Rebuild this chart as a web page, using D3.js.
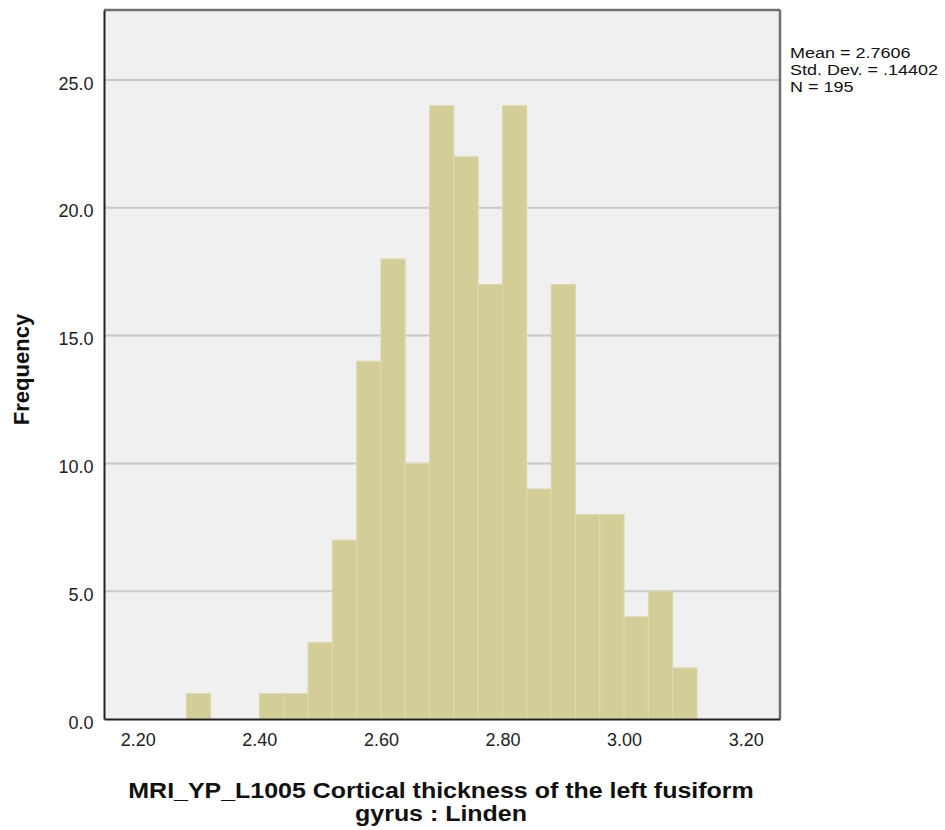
<!DOCTYPE html>
<html><head><meta charset="utf-8">
<script src="https://cdn.jsdelivr.net/npm/d3@7"></script>
<style>body{margin:0;background:#fff;} text{font-family:"Liberation Sans",Arial,sans-serif;}</style>
</head><body>
<svg id="c" width="945" height="830"></svg>
<script>
const binStart = 2.28;
const binWidth = 0.04;
const counts = [1,0,0,1,1,3,7,14,18,10,24,22,17,24,9,17,8,8,4,5,2];
const xTicks = [2.20,2.40,2.60,2.80,3.00,3.20];
const yTicks = [0,5,10,15,20,25];
const statsLines = ["Mean = 2.7606","Std. Dev. = .14402","N = 195"];
const xTitle = ["MRI_YP_L1005 Cortical thickness of the left fusiform","gyrus : Linden"];
const yTitle = "Frequency";

const bins = counts.map((c,i)=>({x0: binStart+i*binWidth, x1: binStart+(i+1)*binWidth, n:c}));

const svg = d3.select("#c");
const L=104, R=780, T=10, B=719;
const x = d3.scaleLinear().domain([2.1446,3.2564]).range([L,R]);
const y = d3.scaleLinear().domain([0,27.74]).range([B,T]);

svg.append("rect").attr("x",L).attr("y",T).attr("width",R-L).attr("height",B-T).attr("fill","#f0f0f0");

svg.append("g").selectAll("line").data(yTicks.filter(d=>d>0)).join("line")
  .attr("x1",L).attr("x2",R).attr("y1",d=>y(d)).attr("y2",d=>y(d))
  .attr("stroke","#c8c8c8").attr("stroke-width",2);

svg.append("g").selectAll("rect").data(bins.filter(b=>b.n>0)).join("rect")
  .attr("x",d=>x(d.x0)).attr("width",d=>x(d.x1)-x(d.x0))
  .attr("y",d=>y(d.n)).attr("height",d=>y(0)-y(d.n))
  .attr("fill","#d3ce97").attr("stroke","#dedaaf").attr("stroke-width",1);

// frame
svg.append("line").attr("x1",L).attr("x2",R).attr("y1",T).attr("y2",T).attr("stroke","#707070").attr("stroke-width",2.5);
svg.append("line").attr("x1",R).attr("x2",R).attr("y1",T).attr("y2",B).attr("stroke","#707070").attr("stroke-width",2.5);

const yAxis = svg.append("g").attr("transform",`translate(${L},0)`)
  .call(d3.axisLeft(y).tickValues(yTicks).tickFormat(d3.format(".1f")).tickSize(0).tickPadding(10.5));
yAxis.select(".domain").attr("stroke","#222").attr("stroke-width",2);
yAxis.selectAll("text").attr("font-size",18).attr("dy","0.5em").attr("fill","#222").attr("font-family","Liberation Sans, Arial");

const xAxis = svg.append("g").attr("transform",`translate(0,${B})`)
  .call(d3.axisBottom(x).tickValues(xTicks).tickFormat(d3.format(".2f")).tickSize(0).tickPadding(14.5));
xAxis.select(".domain").attr("stroke","#222").attr("stroke-width",2);
xAxis.selectAll("text").attr("font-size",18).attr("fill","#222").attr("font-family","Liberation Sans, Arial");

svg.append("g").attr("transform","translate(790,0) scale(1.24,1)")
  .selectAll("text").data(statsLines).join("text")
  .attr("x",0).attr("y",(d,i)=>58.3+i*16.7).attr("font-size",14.5).attr("fill","#111").text(d=>d);

svg.append("text").attr("transform","translate(28.5,369.5) rotate(-90)").attr("text-anchor","middle")
  .attr("font-size",22).attr("font-weight","bold").attr("fill","#111").text(yTitle);

svg.append("g").attr("transform","translate(441,0) scale(1.135,1)")
  .selectAll("text").data(xTitle).join("text")
  .attr("x",0).attr("y",(d,i)=>798+i*23).attr("text-anchor","middle")
  .attr("font-size",22).attr("font-weight","bold").attr("fill","#111").text(d=>d);
</script>
</body></html>
